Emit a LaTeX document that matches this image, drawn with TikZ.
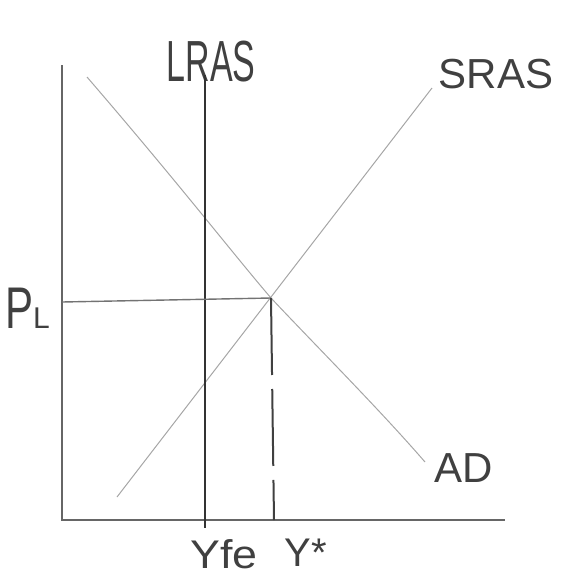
\documentclass[tikz,border=0pt]{standalone}
\usepackage{fontspec}
\setmainfont{Liberation Sans}
\begin{document}
\begin{tikzpicture}[x=1pt,y=-1pt,
  axisline/.style={line width=2pt, draw=black!60},
  lras/.style={line width=2.4pt, draw=black!80},
  curveline/.style={line width=1pt, draw=black!35},
  guide/.style={line width=1.4pt, draw=black!55},
  dropline/.style={line width=2pt, draw=black!75, dash pattern=on 77pt off 14pt},
  lbl/.style={text=black!75, inner sep=0pt}]
\useasboundingbox (0,0) rectangle (564,582);
% coordinates
\coordinate (O) at (62,520);
\coordinate (ytop) at (62,65);
\coordinate (xend) at (505,520);
\coordinate (l1) at (205,75);
\coordinate (l2) at (205,528);
\coordinate (s1) at (117,497);
\coordinate (s2) at (432,88);
\coordinate (a1) at (87,77);
\coordinate (a2) at (425,462);
\coordinate (E) at (271,298);
\coordinate (pl) at (62,302);
\coordinate (Ex) at (274,520);
% axes
\draw[axisline] (ytop) -- (O) -- (xend);
% curves
\draw[curveline] (s1) -- (s2);
\draw[curveline] (a1) .. controls (180,185) and (230,250) .. (E) .. controls (320,350) and (380,410) .. (a2);
% labels
\node[lbl, font=\fontsize{40}{40}\selectfont] (tLRAS) at (211,62) {\scalebox{0.85}[1.45]{LRAS}};
\node[lbl, font=\fontsize{42}{42}\selectfont] (tSRAS) at (496,74) {SRAS};
\node[lbl, font=\fontsize{42}{42}\selectfont] (tAD) at (464,468) {AD};
\node[lbl, font=\fontsize{42}{42}\selectfont, anchor=base west] (tPL) at (5,328) {\scalebox{1}[1.4]{P}\fontsize{30}{30}\selectfont L};
\node[lbl, font=\fontsize{40}{40}\selectfont] (tYfe) at (224,554) {\scalebox{1.12}[1]{Yfe}};
\node[lbl, font=\fontsize{40}{40}\selectfont] (tYs) at (306,553) {Y*};
% LRAS
\draw[lras] (l1) -- (l2);
% guides
\draw[guide] (pl) -- (E);
\draw[dropline] (E) -- (Ex);
\end{tikzpicture}
\end{document}
